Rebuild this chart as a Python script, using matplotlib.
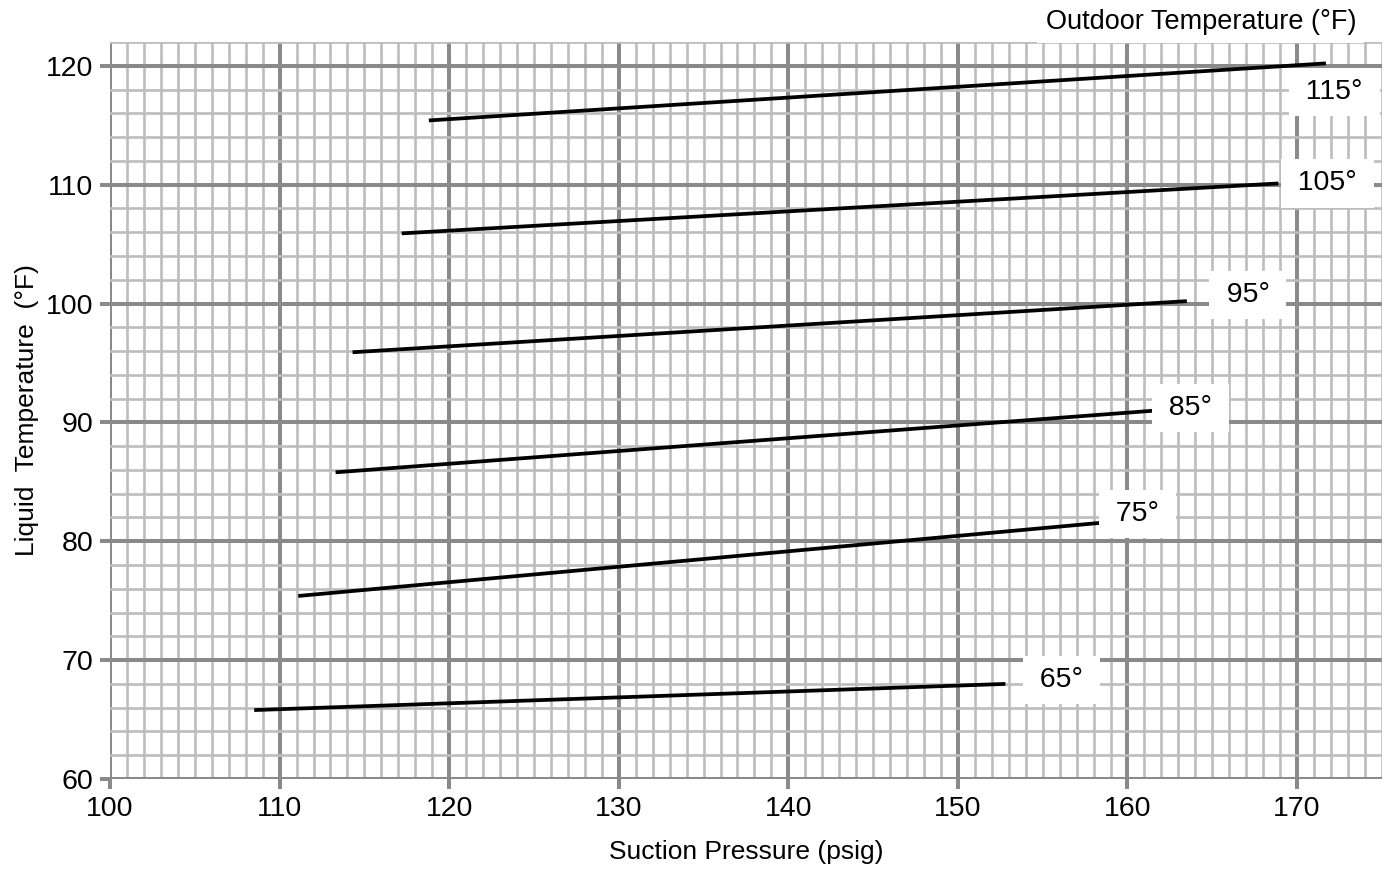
import matplotlib
matplotlib.use('Agg')
import matplotlib.pyplot as plt
from matplotlib.ticker import MultipleLocator

plt.rcParams['font.family'] = ['Liberation Sans', 'DejaVu Sans']

# outdoor temperature curves: (suction pressure, liquid temperature) end points
outdoor = ['65°', '75°', '85°', '95°', '105°', '115°']
x_start = [108.5, 111.1, 113.3, 114.3, 117.2, 118.8]
y_start = [65.8, 75.4, 85.8, 95.9, 105.9, 115.4]
x_end = [152.8, 158.8, 161.7, 163.5, 168.9, 171.7]
y_end = [68.0, 81.6, 91.0, 100.2, 110.1, 120.2]

# label anchor points
label_x = [156.1, 160.6, 163.7, 167.1, 171.8, 172.2]
label_y = [68.3, 82.3, 91.2, 100.7, 110.1, 117.8]

fig = plt.figure(figsize=(13.93, 8.71), dpi=100)
ax = fig.add_axes([0.079, 0.1056, 0.913, 0.8462])

major_c = '#8a8a8a'
minor_c = '#bdbdbd'

ax.set_xlim(100, 175)
ax.set_ylim(60, 122)
ax.xaxis.set_major_locator(MultipleLocator(10))
ax.xaxis.set_minor_locator(MultipleLocator(1))
ax.yaxis.set_major_locator(MultipleLocator(10))
ax.yaxis.set_minor_locator(MultipleLocator(2))

ax.grid(which='minor', color=minor_c, linewidth=1.9, zorder=0)
ax.grid(which='major', color=major_c, linewidth=2.9, zorder=1)
ax.set_axisbelow(True)
for s in ax.spines.values():
    s.set_visible(False)

ax.tick_params(which='major', length=7, width=2.9, color=major_c,
               labelsize=20.5, pad=5)
ax.tick_params(which='minor', length=0)

for i in range(len(outdoor)):
    ax.plot([x_start[i], x_end[i]], [y_start[i], y_end[i]],
            color='black', linewidth=2.7, solid_capstyle='butt', zorder=3)
    ax.text(label_x[i], label_y[i], '\u2009' + outdoor[i] + '\u2009',
            fontsize=20.5, ha='center', va='center', zorder=4,
            bbox=dict(facecolor='white', edgecolor='none', pad=8))

fig.text(0.862, 0.975, 'Outdoor Temperature (°F)', fontsize=19.5,
         ha='center', va='center',
         bbox=dict(facecolor='white', edgecolor='none', pad=6))

ax.set_xlabel('Suction Pressure (psig)', fontsize=19, labelpad=13)
ax.set_ylabel('Liquid  Temperature  (°F)', fontsize=19, labelpad=5)

fig.savefig('out.png', dpi=100)
